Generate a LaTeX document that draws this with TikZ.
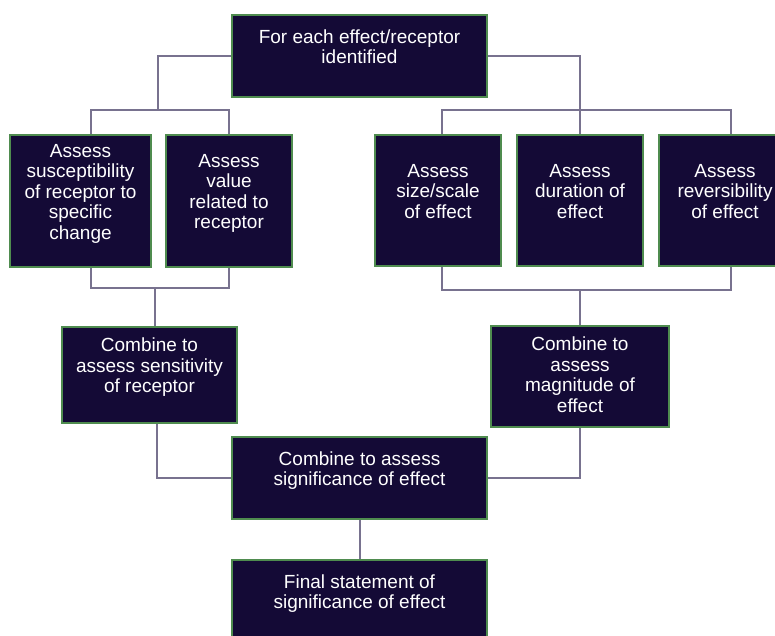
\documentclass[tikz,border=0pt]{standalone}
\usepackage{fontspec}
\setmainfont{Liberation Sans}
\usetikzlibrary{positioning}

\definecolor{boxfill}{HTML}{140A36}
\definecolor{boxedge}{HTML}{4F8C4F}
\definecolor{linkgray}{HTML}{78728F}

\tikzset{
  stepbox/.style={draw=boxedge, line width=1.1pt, fill=boxfill, text=white,
    align=center, inner sep=0pt, text depth=19pt,
    font=\fontsize{19}{20.5}\selectfont},
  link/.style={draw=linkgray, line width=2pt}
}

\begin{document}
\begin{tikzpicture}[x=1pt, y=-1pt]
  \useasboundingbox (0,0) rectangle (775,635);

  %% top
  \node[stepbox, minimum width=255pt, minimum height=82pt] (each) at (359.5,56)
    {For each effect/receptor\\identified};

  %% receptor side
  \node[stepbox, minimum width=141pt, minimum height=132pt] (suscep) at (80.5,201)
    {Assess\\susceptibility\\of receptor to\\specific\\change};
  \node[stepbox, minimum width=126pt, minimum height=132pt] (value) at (229,201)
    {Assess\\value\\related to\\receptor};
  \node[stepbox, minimum width=175pt, minimum height=96pt] (sens) at (149.5,375)
    {Combine to\\assess sensitivity\\of receptor};

  %% effect side
  \node[stepbox, minimum width=126pt, minimum height=131pt] (size) at (438,200.5)
    {Assess\\size/scale\\of effect};
  \node[stepbox, minimum width=126pt, minimum height=131pt] (duration) at (580,200.5)
    {Assess\\duration of\\effect};
  \node[stepbox, minimum width=132pt, minimum height=131pt] (revers) at (725,200.5)
    {Assess\\reversibility\\of effect};
  \node[stepbox, text depth=4pt, minimum width=178pt, minimum height=101pt] (magn) at (580,376.5)
    {Combine to\\assess\\magnitude of\\effect};

  %% bottom
  \node[stepbox, minimum width=255pt, minimum height=82pt] (signif) at (359.5,478)
    {Combine to assess\\significance of effect};
  \node[stepbox, minimum width=255pt, minimum height=82pt] (final) at (359.5,601)
    {Final statement of\\significance of effect};

  \coordinate (lsplit) at (158,110);
  \coordinate (rsplit) at (580,110);
  \coordinate (lmerge) at (155,288);
  \coordinate (rmerge) at (580,290);

  \draw[link] (each.west) -| (lsplit);
  \draw[link] ([xshift=10.5pt]suscep.north) |- (lsplit) -| (value.north);
  \draw[link] (each.east) -| (rsplit) -- (duration.north);
  \draw[link] ([xshift=4pt]size.north) |- (rsplit) -| ([xshift=6pt]revers.north);

  \draw[link] ([xshift=10.5pt]suscep.south) |- (lmerge) -| (value.south);
  \draw[link] (lmerge) -- (lmerge |- sens.north);
  \draw[link] ([xshift=4pt]size.south) |- (rmerge) -| ([xshift=6pt]revers.south);
  \draw[link] (rmerge) -- (magn.north);

  \draw[link] ([xshift=7.5pt]sens.south) |- (signif.west);
  \draw[link] (magn.south) |- (signif.east);
  \draw[link] (signif) -- (final);
\end{tikzpicture}
\end{document}
